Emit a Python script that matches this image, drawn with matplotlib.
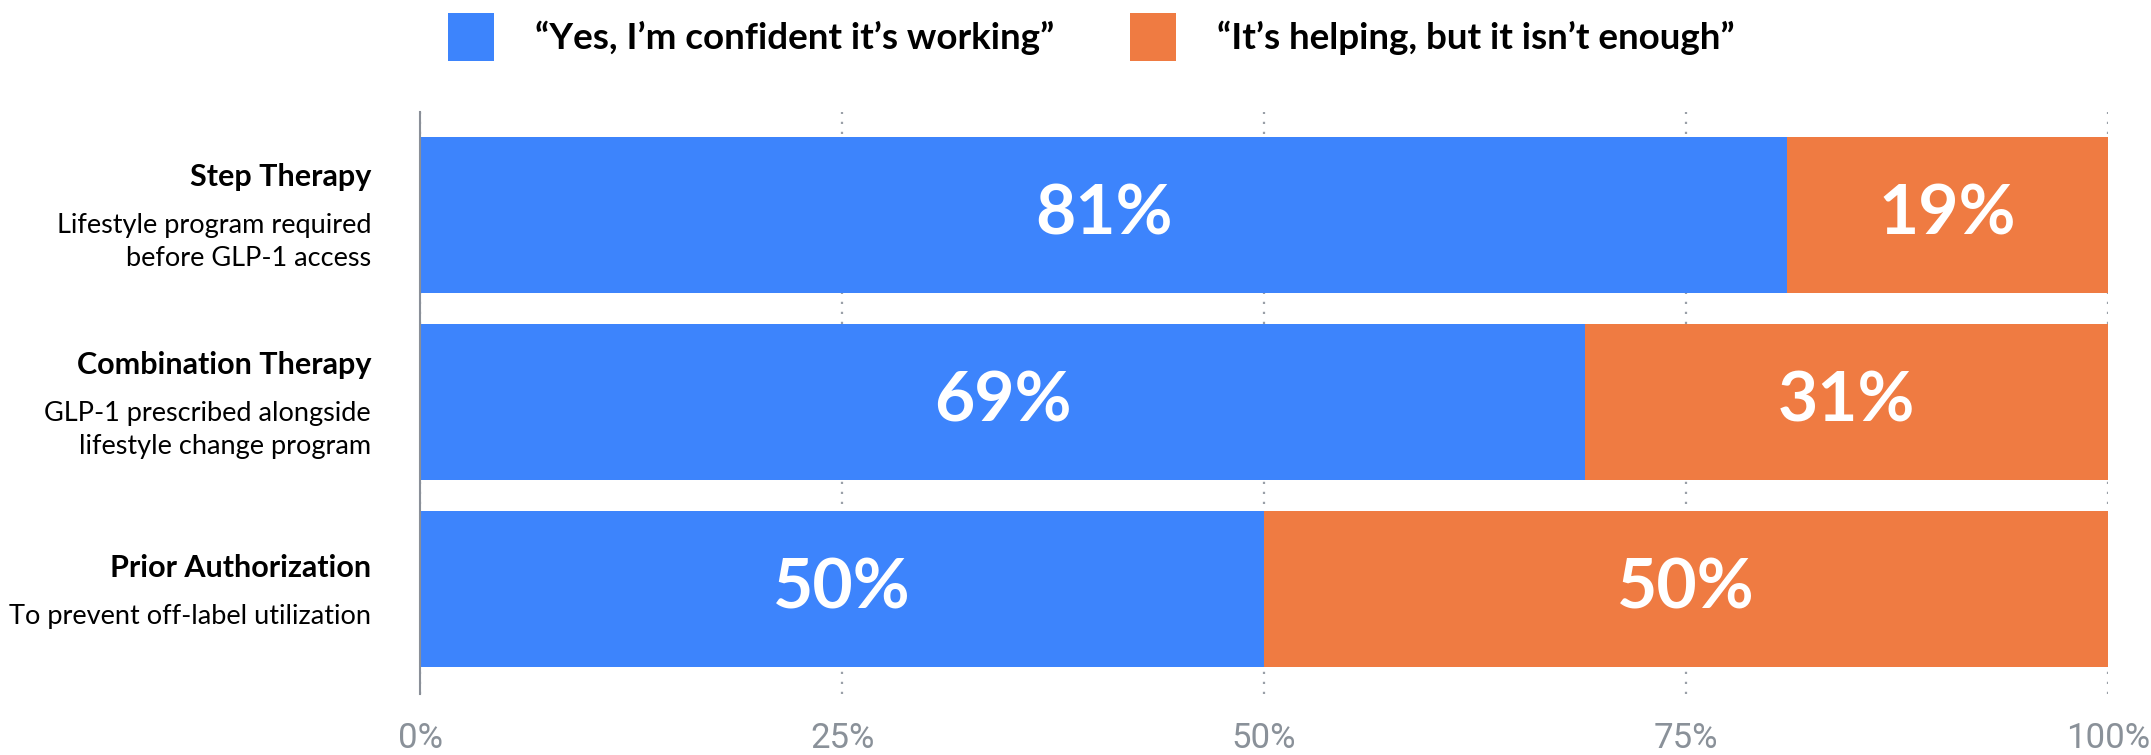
import matplotlib.pyplot as plt
import numpy as np

categories = ['Step Therapy', 'Combination Therapy', 'Prior Authorization']
descriptions = [
    'Lifestyle program required\nbefore GLP-1 access',
    'GLP-1 prescribed alongside\nlifestyle change program',
    'To prevent off-label utilization',
]
confident = [81, 69, 50]
not_enough = [19, 31, 50]
series_names = ['\u201cYes, I\u2019m confident it\u2019s working\u201d',
                '\u201cIt\u2019s helping, but it isn\u2019t enough\u201d']
tick_values = [0, 25, 50, 75, 100]
tick_labels = ['0%', '25%', '50%', '75%', '100%']

BLUE = '#3D84FC'
ORANGE = '#EF7B42'
GREY = '#8A9199'
FONT = 'Lato'

plt.rcParams['font.family'] = [FONT, 'DejaVu Sans']

fig = plt.figure(figsize=(21.51, 7.55), dpi=100)
ax = fig.add_axes([0.1953, 0.0808, 0.7847, 0.7709])

y = np.arange(len(categories))
b1 = ax.barh(y, confident, height=0.834, color=BLUE, zorder=2)
b2 = ax.barh(y, not_enough, left=confident, height=0.834, color=ORANGE, zorder=2)

for bars, vals in ((b1, confident), (b2, not_enough)):
    ax.bar_label(bars, labels=[f'{v}%' for v in vals], label_type='center',
                 color='white', fontsize=50, fontweight='bold')

ax.set_xlim(0, 100)
ax.set_ylim(2.56, -0.55)

# dotted vertical grid behind the bars
ax.set_axisbelow(True)
ax.xaxis.grid(True, color='#9AA0A8', linewidth=1.6, linestyle=(0, (1, 3.5)))
ax.set_xticks(tick_values)
ax.set_xticklabels(tick_labels, fontfamily='Roboto')
ax.tick_params(axis='x', length=0, pad=20, labelsize=25, labelcolor=GREY)
ax.set_yticks([])

for side in ('top', 'right', 'bottom'):
    ax.spines[side].set_visible(False)
ax.spines['left'].set_color('#8A8F98')
ax.spines['left'].set_linewidth(1.5)
ax.spines['left'].set_zorder(3)

# category titles and descriptions to the left of the axis
for i, (cat, desc) in enumerate(zip(categories, descriptions)):
    lines = desc.split('\n')
    top = (24 + 33 * (len(lines) - 1)) / 2
    ax.annotate(cat, xy=(0, i), xytext=(-49, top), textcoords='offset pixels',
                ha='right', va='baseline', fontsize=22, fontweight='bold',
                annotation_clip=False)
    for k, line in enumerate(lines):
        ax.annotate(line, xy=(0, i), xytext=(-49, top - 47 - 33 * k),
                    textcoords='offset pixels', ha='right', va='baseline',
                    fontsize=19.5, annotation_clip=False)

fig.legend(handles=[b1, b2], labels=series_names, loc='center',
           bbox_to_anchor=(1091 / 2151, 1 - 37 / 755), ncol=2, frameon=False,
           prop={'family': FONT, 'weight': 'bold', 'size': 26.5},
           handlelength=1.25, handleheight=1.65, handletextpad=1.12,
           columnspacing=2.05)

fig.savefig('out.png', dpi=100)
